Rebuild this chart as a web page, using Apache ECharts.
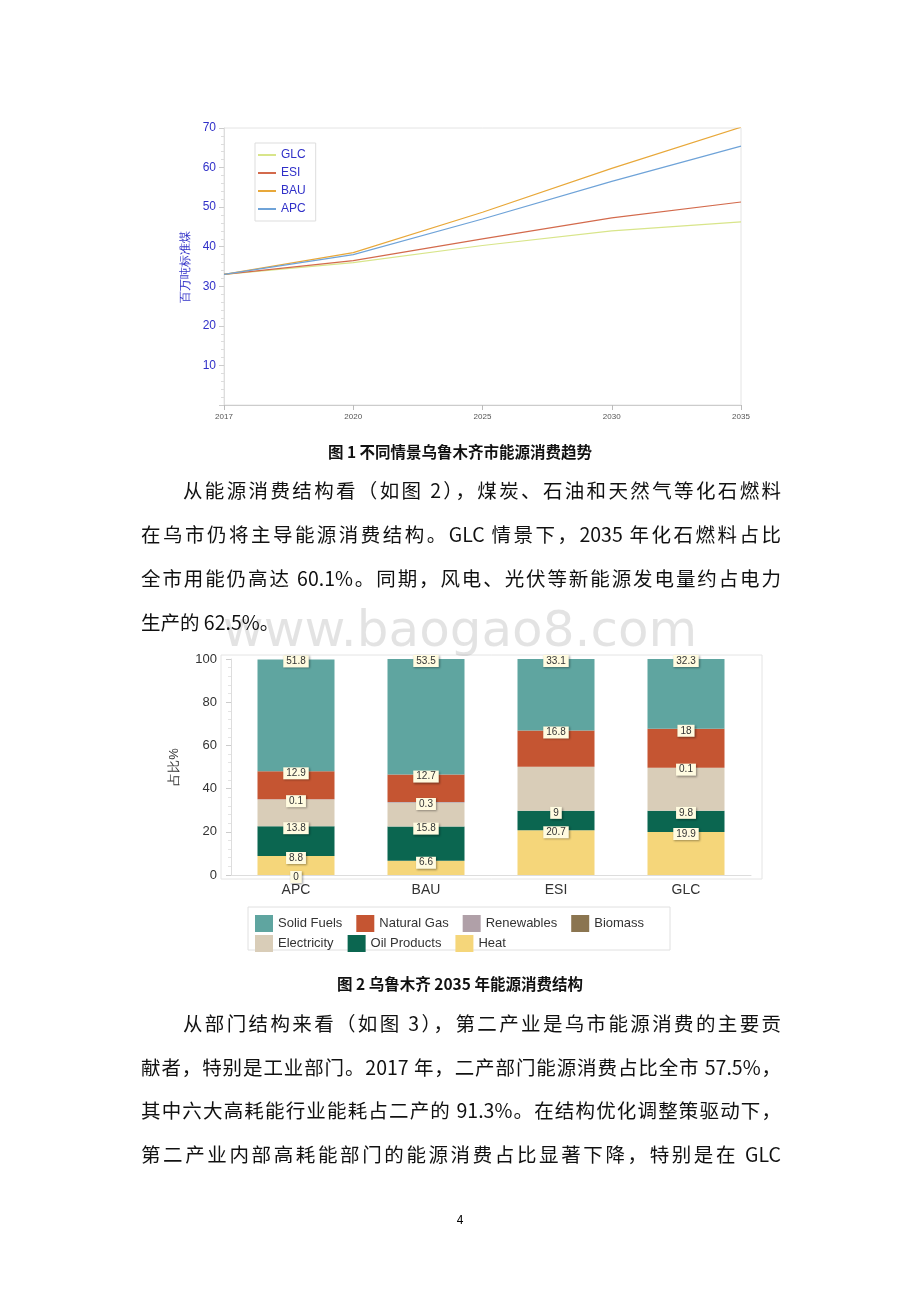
<!DOCTYPE html>
<html><head><meta charset="utf-8">
<script src="https://cdn.jsdelivr.net/npm/echarts@6/dist/echarts.min.js"></script>
<style>
body{margin:0;background:#fff;width:920px;height:1302px;position:relative;overflow:hidden;font-family:"Noto Sans CJK SC",sans-serif;}
.ln{position:absolute;font-size:19.5px;color:#111;white-space:nowrap;text-align:justify;text-align-last:justify;}
.cap{position:absolute;left:0;width:920px;text-align:center;font-weight:bold;font-size:15.5px;color:#111;}
#wm{position:absolute;left:0;width:920px;top:600px;text-align:center;font-size:50px;color:rgba(0,0,0,0.11);font-family:"DejaVu Sans",sans-serif;z-index:5;pointer-events:none;}
#c{position:absolute;left:0;top:0;width:920px;height:1302px;}
</style></head><body>
<div id="c"></div>
<div class="cap" style="top:440px">图 1 不同情景乌鲁木齐市能源消费趋势</div>
<div class="ln" style="left:183px;width:598px;top:475px">从能源消费结构看（如图 2），煤炭、石油和天然气等化石燃料</div>
<div class="ln" style="left:141px;width:640px;top:519px">在乌市仍将主导能源消费结构。GLC 情景下，2035 年化石燃料占比</div>
<div class="ln" style="left:141px;width:640px;top:563px">全市用能仍高达 60.1%。同期，风电、光伏等新能源发电量约占电力</div>
<div class="ln" style="left:141px;top:607px;text-align-last:auto">生产的 62.5%。</div>
<div id="wm">www.baogao8.com</div>
<div class="cap" style="top:972px">图 2 乌鲁木齐 2035 年能源消费结构</div>
<div class="ln" style="left:183px;width:598px;top:1008px">从部门结构来看（如图 3），第二产业是乌市能源消费的主要贡</div>
<div class="ln" style="left:141px;width:640px;top:1052px">献者，特别是工业部门。2017 年，二产部门能源消费占比全市 57.5%，</div>
<div class="ln" style="left:141px;width:640px;top:1095px">其中六大高耗能行业能耗占二产的 91.3%。在结构优化调整策驱动下，</div>
<div class="ln" style="left:141px;width:640px;top:1139px">第二产业内部高耗能部门的能源消费占比显著下降，特别是在  GLC</div>
<div style="position:absolute;left:0;width:920px;top:1210px;text-align:center;font-size:12px;">4</div>
<script>
// line chart data
const years = ['2017', '2020', '2025', '2030', '2035'];
const glc = [33, 36, 40.3, 44, 46.3];
const esi = [33, 36.5, 42, 47.3, 51.3];
const bau = [33, 38.5, 48.7, 59.8, 70.2];
const apc = [33, 38, 47, 56.5, 65.4];

// bar chart data
const scen = ['APC', 'BAU', 'ESI', 'GLC'];
const biomass = [0, 0, 0, 0];
const heat = [8.8, 6.6, 20.7, 19.9];
const oil = [13.8, 15.8, 9, 9.8];
const elec = [12.4, 11.1, 20.4, 19.9];
const renew = [0.1, 0.3, 0, 0.1];
const gas = [12.9, 12.7, 16.8, 18];
const solid = [51.8, 53.5, 33.1, 32.3];

const chart = echarts.init(document.getElementById('c'));
const blue = '#3030c8';

const lbl = {
  show: true, position: 'insideTop', offset: [0, -9], fontSize: 10, color: '#333',
  backgroundColor: '#fffbe0', padding: [1, 3], shadowColor: 'rgba(0,0,0,0.35)', shadowBlur: 2, shadowOffsetX: 1, shadowOffsetY: 1
};
function bar(name, data, color, showLbl, onlyFirst) {
  return {
    name, type: 'bar', stack: 's', xAxisIndex: 1, yAxisIndex: 1, barWidth: 77,
    data: data.map((v, i) => ({ value: v, label: { show: showLbl && (onlyFirst ? i === 0 : v !== 0) } })),
    itemStyle: { color }, label: lbl
  };
}
function line(name, data, color) {
  return { name, type: 'line', data, symbol: 'none', lineStyle: { color, width: 1.2 }, itemStyle: { color } };
}

chart.setOption({
  animation: false,
  grid: [
    { left: 224, top: 128, width: 517, height: 277, show: true, borderColor: '#e4e4e4', backgroundColor: 'transparent' },
    { left: 231, top: 659, width: 520, height: 216 }
  ],
  legend: [
    { data: ['GLC', 'ESI', 'BAU', 'APC'], orient: 'vertical', left: 255, top: 143, itemWidth: 18, itemHeight: 2, itemGap: 6,
      icon: 'rect', textStyle: { color: blue, fontSize: 12 }, borderColor: '#ddd', borderWidth: 1, padding: [6, 10, 6, 3] },
    { data: ['Solid Fuels', 'Natural Gas', 'Renewables', 'Biomass'], left: 250, top: 910, itemWidth: 18, itemHeight: 17, itemGap: 14,
      textStyle: { fontSize: 13, color: '#333' }, icon: 'rect' },
    { data: ['Electricity', 'Oil Products', 'Heat'], left: 250, top: 930, itemWidth: 18, itemHeight: 17, itemGap: 14,
      textStyle: { fontSize: 13, color: '#333' }, icon: 'rect' }
  ],
  graphic: [
    { type: 'rect', shape: { x: 248, y: 907, width: 422, height: 43 }, style: { fill: 'none', stroke: '#e0e0e0' } },
    { type: 'rect', z: -1, shape: { x: 221, y: 655, width: 541, height: 224 }, style: { fill: 'none', stroke: '#e4e4e4' } }
  ],
  xAxis: [
    { type: 'category', gridIndex: 0, data: years, boundaryGap: false,
      axisLine: { lineStyle: { color: '#ccc' } }, axisTick: { lineStyle: { color: '#bbb' } },
      axisLabel: { fontSize: 8, color: '#555' } },
    { type: 'category', gridIndex: 1, data: scen, axisLine: { lineStyle: { color: '#ddd' } },
      axisTick: { lineStyle: { color: '#bbb' } }, axisLabel: { fontSize: 14, color: '#333' } }
  ],
  yAxis: [
    { type: 'value', gridIndex: 0, min: 0, max: 70, interval: 10, name: '百万吨标准煤', nameLocation: 'middle', nameGap: 30,
      nameTextStyle: { color: blue, fontSize: 12 }, axisLine: { show: true, lineStyle: { color: '#ddd' } },
      axisTick: { show: true, lineStyle: { color: '#ccc' } }, minorTick: { show: true, splitNumber: 5, lineStyle: { color: '#ddd' } },
      splitLine: { show: false }, axisLabel: { color: blue, fontSize: 12, formatter: v => v === 0 ? '' : v } },
    { type: 'value', gridIndex: 1, min: 0, max: 100, interval: 20, name: '占比%', nameLocation: 'middle', nameGap: 50,
      nameTextStyle: { color: '#333', fontSize: 13 }, axisLine: { show: true, lineStyle: { color: '#ddd' } },
      axisTick: { show: true, lineStyle: { color: '#ccc' } }, minorTick: { show: true, splitNumber: 5, lineStyle: { color: '#e4e4e4' } },
      splitLine: { show: false }, axisLabel: { color: '#333', fontSize: 13, margin: 14 } }
  ],
  series: [
    line('GLC', glc, '#d8e58a'),
    line('ESI', esi, '#d36a4c'),
    line('BAU', bau, '#e8a83a'),
    line('APC', apc, '#6fa3d8'),
    bar('Biomass', biomass, '#8b7550', true, true),
    bar('Heat', heat, '#f5d67a', true),
    bar('Oil Products', oil, '#0b6650', true),
    bar('Electricity', elec, '#d9cdb8', false),
    bar('Renewables', renew, '#b0a0a8', true),
    bar('Natural Gas', gas, '#c55532', true),
    bar('Solid Fuels', solid, '#5fa5a0', true)
  ]
});
</script>
</body></html>
